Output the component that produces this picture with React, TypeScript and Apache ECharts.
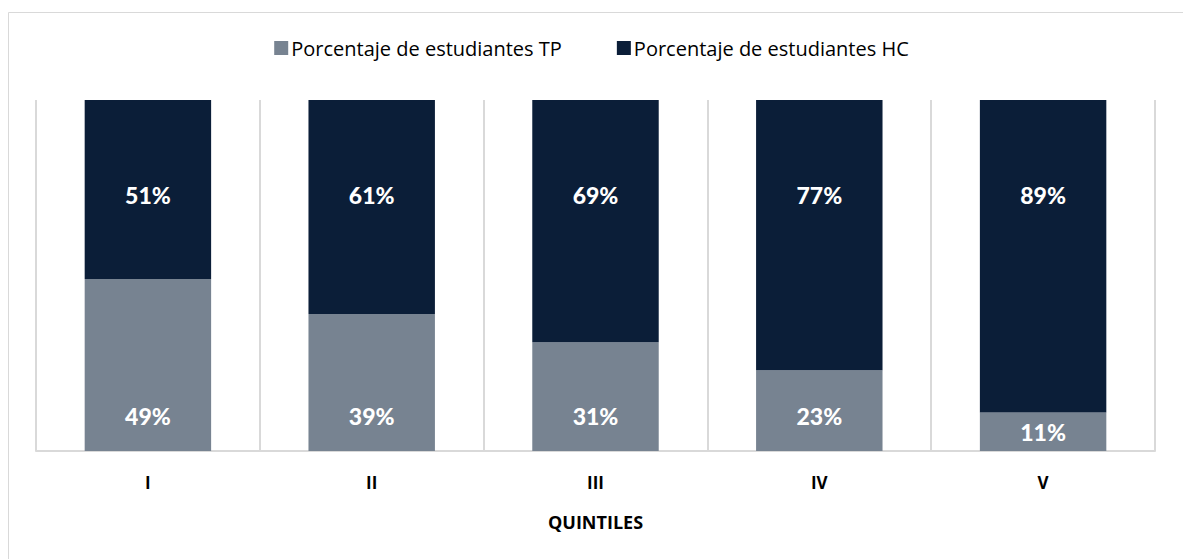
import React, { useEffect, useRef } from "react";
import * as echarts from "echarts";

const categories = ["I", "II", "III", "IV", "V"];
const tpValues = [49, 39, 31, 23, 11];
const hcValues = [51, 61, 69, 77, 89];
const seriesNames = ["Porcentaje de estudiantes TP", "Porcentaje de estudiantes HC"];

const TP_COLOR = "#778391";
const HC_COLOR = "#0B1E38";

export default function App() {
  const ref = useRef<HTMLDivElement>(null);
  useEffect(() => {
    if (!ref.current) return;
    const chart = echarts.init(ref.current, undefined, { renderer: "svg" });
    const labelFont = {
      color: "#ffffff",
      fontFamily: "Lato",
      fontWeight: 900 as any,
      fontSize: 23,
    };
    chart.setOption({
      animation: false,
      backgroundColor: "#ffffff",
      graphic: [
        { type: "line", shape: { x1: 8.5, y1: 12.5, x2: 1183, y2: 12.5 }, style: { stroke: "#D9D9D9", lineWidth: 1 } },
        { type: "line", shape: { x1: 8.5, y1: 12.5, x2: 8.5, y2: 559 }, style: { stroke: "#D9D9D9", lineWidth: 1 } },
      ],
      legend: {
        top: 33,
        left: "center",
        itemWidth: 14,
        itemHeight: 14,
        itemGap: 55,
        icon: "rect",
        textStyle: { fontFamily: "Open Sans", fontSize: 20, color: "#000000", padding: [0, 0, 0, -2] },
        data: seriesNames,
      },
      grid: { left: 36, right: 28, top: 100, bottom: 108 },
      xAxis: {
        type: "category",
        data: categories,
        name: "QUINTILES",
        nameLocation: "middle",
        nameGap: 62,
        nameTextStyle: { fontFamily: "Open Sans", fontWeight: "bold", fontSize: 18, color: "#000000" },
        axisLine: { show: true, lineStyle: { color: "#D9D9D9", width: 2 } },
        axisTick: { show: false },
        axisLabel: { margin: 23, fontFamily: "Open Sans", fontWeight: "bold", fontSize: 17, color: "#000000" },
        splitLine: { show: true, lineStyle: { color: "#D9D9D9", width: 2 } },
      },
      yAxis: {
        type: "value",
        min: 0,
        max: 100,
        show: false,
        splitLine: { show: false },
      },
      series: [
        {
          name: seriesNames[0],
          type: "bar",
          stack: "total",
          barWidth: "56.5%",
          itemStyle: { color: TP_COLOR },
          data: tpValues.map((v, i) => ({
            value: v,
            label:
              i === tpValues.length - 1
                ? { show: true, position: "inside", ...labelFont }
                : { show: true, position: "insideBottom", distance: 24, ...labelFont },
          })),
          label: { formatter: "{c}%" },
        },
        {
          name: seriesNames[1],
          type: "bar",
          stack: "total",
          barWidth: "56.5%",
          itemStyle: { color: HC_COLOR },
          data: hcValues,
          label: {
            show: true,
            position: "insideTop",
            distance: 83,
            formatter: "{c}%",
            ...labelFont,
          },
        },
      ],
    });
    return () => chart.dispose();
  }, []);
  return (
    <div
      ref={ref}
      style={{ position: "absolute", left: 0, top: 0, width: 1183, height: 559 }}
    />
  );
}
